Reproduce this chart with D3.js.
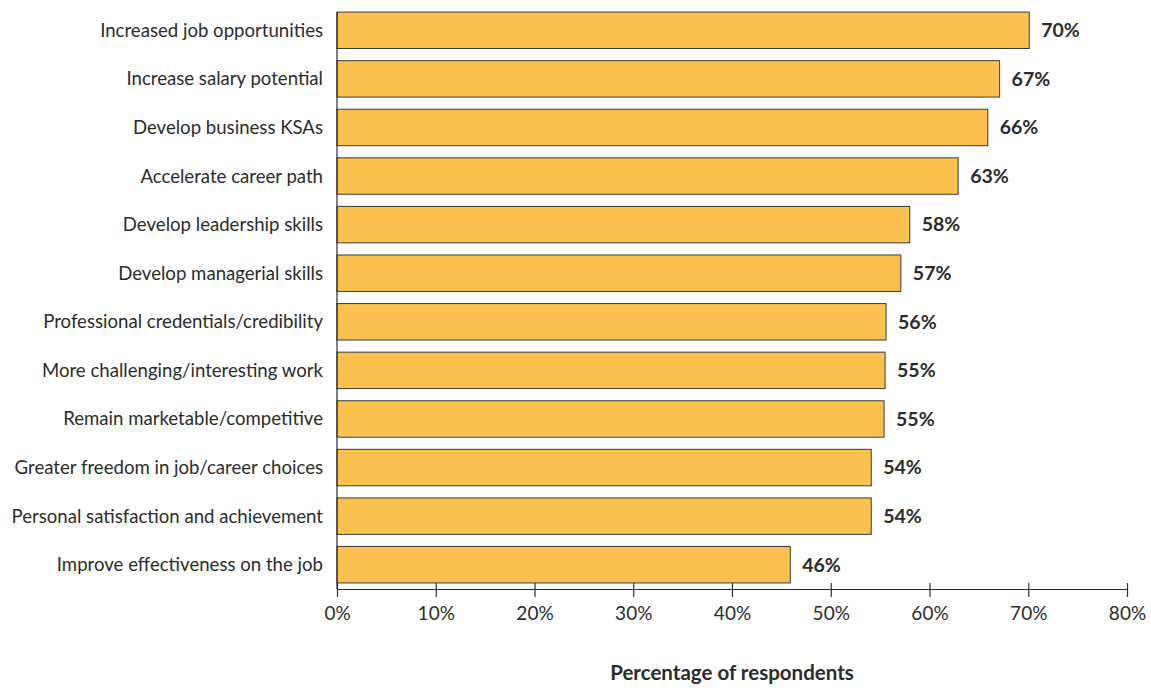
<!DOCTYPE html>
<html>
<head>
<meta charset="utf-8">
<script src="https://cdn.jsdelivr.net/npm/d3@7"></script>
<style>
  html, body { margin: 0; padding: 0; background: #fff; }
  svg { display: block; }
</style>
</head>
<body>
<svg id="chart" width="1151" height="692"></svg>
<script>
const categories = [
  "Increased job opportunities",
  "Increase salary potential",
  "Develop business KSAs",
  "Accelerate career path",
  "Develop leadership skills",
  "Develop managerial skills",
  "Professional credentials/credibility",
  "More challenging/interesting work",
  "Remain marketable/competitive",
  "Greater freedom in job/career choices",
  "Personal satisfaction and achievement",
  "Improve effectiveness on the job"
];
const values = [70.1, 67.1, 65.9, 62.9, 58.0, 57.1, 55.6, 55.5, 55.4, 54.1, 54.1, 45.9];
const valueLabels = ["70%", "67%", "66%", "63%", "58%", "57%", "56%", "55%", "55%", "54%", "54%", "46%"];
const tickValues = [0, 10, 20, 30, 40, 50, 60, 70, 80];
const tickLabels = ["0%", "10%", "20%", "30%", "40%", "50%", "60%", "70%", "80%"];
const axisTitle = "Percentage of respondents";

const svg = d3.select("#chart");
const textColor = "#2b2b2b";
const font = "Lato, 'Open Sans', sans-serif";

const x = d3.scaleLinear().domain([0, 80]).range([337, 1127]);
const y = d3.scaleBand().domain(categories).range([6, 589]).paddingInner(0.25).paddingOuter(0.125);
const axisY = 589;

// bars
svg.append("g").selectAll("rect")
  .data(categories)
  .join("rect")
  .attr("x", x(0))
  .attr("y", d => y(d))
  .attr("width", (d, i) => x(values[i]) - x(0))
  .attr("height", y.bandwidth())
  .attr("fill", "#FDC14F")
  .attr("stroke", "#3a3a3a")
  .attr("stroke-width", 1);

// left vertical line
svg.append("line")
  .attr("x1", x(0)).attr("x2", x(0))
  .attr("y1", y(categories[0])).attr("y2", axisY)
  .attr("stroke", "#2b2b2b").attr("stroke-width", 1.2);

// category labels
svg.append("g").selectAll("text")
  .data(categories)
  .join("text")
  .attr("x", x(0) - 14)
  .attr("y", d => y(d) + y.bandwidth() / 2)
  .attr("dy", "0.35em")
  .attr("text-anchor", "end")
  .attr("font-family", font)
  .attr("font-size", "18.6px")
  .attr("fill", textColor)
  .text(d => d);

// value labels
svg.append("g").selectAll("text")
  .data(categories)
  .join("text")
  .attr("x", (d, i) => x(values[i]) + 12)
  .attr("y", d => y(d) + y.bandwidth() / 2)
  .attr("dy", "0.35em")
  .attr("font-family", font)
  .attr("font-weight", "bold")
  .attr("font-size", "19.5px")
  .attr("fill", textColor)
  .text((d, i) => valueLabels[i]);

// x axis
const xAxis = d3.axisBottom(x)
  .tickValues(tickValues)
  .tickFormat((d, i) => tickLabels[i])
  .tickSizeInner(8)
  .tickSizeOuter(0);

const gx = svg.append("g")
  .attr("transform", `translate(0,${axisY})`)
  .call(xAxis);
gx.select(".domain").attr("stroke", "#2b2b2b").attr("stroke-width", 1.2);
gx.selectAll(".tick line").attr("y1", -6).attr("y2", 8).attr("stroke", "#2b2b2b").attr("stroke-width", 1.2);
gx.selectAll(".tick text")
  .attr("y", 18)
  .attr("font-family", font)
  .attr("font-size", "19px")
  .attr("fill", textColor);

// axis title
svg.append("text")
  .attr("x", (x(0) + x(80)) / 2)
  .attr("y", 680)
  .attr("text-anchor", "middle")
  .attr("font-family", font)
  .attr("font-weight", "bold")
  .attr("font-size", "20.5px")
  .attr("fill", textColor)
  .text(axisTitle);
</script>
</body>
</html>
